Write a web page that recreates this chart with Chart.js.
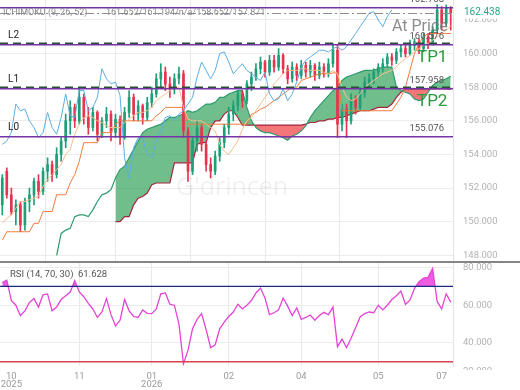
<!DOCTYPE html>
<html>
<head>
<meta charset="utf-8">
<script src="https://cdn.jsdelivr.net/npm/chart.js@4.4.0/dist/chart.umd.min.js"></script>
<style>
  html, body { margin: 0; padding: 0; background: #fff; }
  #wrap { position: relative; width: 520px; height: 390px; overflow: hidden; }
  canvas { position: absolute; left: 0; }
  #main { top: 0; }
  #rsi { top: 262px; }
  #sep { position: absolute; left: 0; top: 261px; width: 520px; height: 2px; background: #858585; }
</style>
</head>
<body>
<div id="wrap">
  <canvas id="main" width="520" height="262"></canvas>
  <canvas id="rsi" width="520" height="128"></canvas>
  <div id="sep"></div>
</div>
<script>
// candles, one per bar index
const opens = [151.0,153.0,151.6,150.6,151.0,149.8,151.2,151.6,152.4,151.8,
  153.0,153.4,152.8,154.0,154.8,156.0,156.8,156.0,157.4,156.2,
  155.6,156.5,155.2,156.0,156.4,155.3,156.1,155.0,156.5,157.4,
  156.4,156.9,156.2,157.1,157.6,158.5,158.9,158.2,157.9,158.5,
  158.8,155.4,153.0,154.8,155.6,154.6,153.4,153.0,153.9,154.7,
  155.6,156.4,156.9,157.6,157.2,158.2,158.6,159.1,159.5,158.9,
  159.6,159.2,159.9,159.1,158.5,159.2,158.7,159.3,158.9,159.3,
  158.7,159.2,158.8,159.4,160.2,155.8,156.7,156.0,157.3,156.8,
  157.7,158.3,158.5,158.9,159.2,159.4,159.8,159.6,160.1,160.3,
  160.0,160.5,160.7,160.3,161.0,160.6,161.4,162.6,161.8,162.7];
const highs = [152.8,153.2,152.0,151.3,151.2,151.4,152.0,152.6,152.8,153.2,
  153.8,153.6,154.4,155.0,156.4,157.2,157.0,158.0,157.6,156.8,
  156.8,156.6,156.2,156.8,156.6,156.4,156.3,156.8,157.8,157.6,
  157.2,157.0,157.4,158.0,158.8,159.4,159.2,158.6,158.8,159.2,
  159.0,155.6,155.0,156.0,155.8,154.8,153.8,154.2,155.0,155.8,
  156.8,157.2,157.8,157.8,158.4,158.9,159.4,159.8,159.6,159.9,
  159.9,160.3,160.0,159.3,159.5,159.4,159.6,159.5,159.6,159.4,
  159.5,159.4,159.7,160.6,160.5,157.0,157.0,157.6,157.5,158.0,
  158.6,158.8,159.1,159.4,159.7,160.0,160.0,160.3,160.5,160.6,
  160.8,160.9,160.9,161.2,161.2,161.6,162.9,162.8,162.9,162.8];
const lows = [150.4,151.4,150.4,149.8,149.4,149.5,150.6,151.0,151.4,151.6,
  152.4,152.4,152.6,153.6,154.4,155.2,155.6,155.8,155.8,155.2,
  155.4,154.8,155.0,155.6,154.8,155.0,154.6,154.9,156.2,156.0,
  156.0,155.8,156.0,156.8,157.4,158.0,157.8,157.4,157.6,158.2,
  155.0,152.4,152.8,154.2,154.2,153.0,152.6,152.8,153.6,154.4,
  155.2,156.0,156.6,156.8,157.0,157.8,158.4,158.8,158.6,158.7,
  158.9,159.0,158.8,158.2,158.3,158.4,158.5,158.6,158.6,158.4,
  158.5,158.6,158.6,159.2,155.0,155.4,155.0,155.8,156.4,156.6,
  157.4,158.0,158.2,158.6,158.9,159.2,159.3,159.4,159.8,159.8,
  159.9,160.2,160.0,160.1,160.3,160.5,161.2,161.4,161.6,161.4];
const closes = [152.6,151.6,150.6,151.0,149.8,151.2,151.6,152.4,151.8,153.0,
  153.4,152.8,154.0,154.8,156.0,156.8,156.0,157.4,156.2,155.6,
  156.5,155.2,156.0,156.4,155.3,156.1,155.0,156.5,157.4,156.4,
  156.9,156.2,157.1,157.6,158.5,158.9,158.2,157.9,158.5,158.8,
  155.4,153.0,154.8,155.6,154.6,153.4,153.0,153.9,154.7,155.6,
  156.4,156.9,157.6,157.2,158.2,158.6,159.1,159.5,158.9,159.6,
  159.2,159.9,159.1,158.5,159.2,158.7,159.3,158.9,159.3,158.7,
  159.2,158.8,159.4,160.2,155.8,156.7,156.0,157.3,156.8,157.7,
  158.3,158.5,158.9,159.2,159.4,159.8,159.6,160.1,160.3,160.0,
  160.5,160.7,160.3,161.0,160.6,161.4,162.6,161.8,162.7,162.438];

// ichimoku lines
const tenkan = [149.9,150.2,150.4,150.8,151.2,151.2,151.3,151.4,151.5,152.1,
  152.5,152.8,153.1,153.4,154.0,154.3,155.2,155.8,156.2,156.3,
  156.2,156.0,155.9,155.7,155.6,155.6,155.6,155.9,156.1,156.3,
  156.5,156.5,156.6,156.8,157.2,157.4,157.6,157.8,158.0,158.0,
  156.8,156.1,156.0,156.0,156.0,155.8,155.6,155.4,154.6,154.2,
  154.0,154.4,154.8,155.5,156.0,156.2,156.6,157.0,157.4,157.8,
  158.2,158.5,158.8,159.0,159.0,159.0,159.1,159.1,159.0,159.0,
  159.0,158.9,158.8,159.0,158.8,158.0,157.4,157.2,157.3,157.6,
  158.0,158.2,158.4,158.6,158.8,158.9,159.0,159.2,159.5,159.7,
  159.9,160.1,160.3,160.5,160.6,160.8,161.0,161.2,161.4,161.652];
const kijun = [148.9,149.4,149.4,149.4,149.4,149.4,149.4,149.9,149.9,150.6,
  150.6,150.6,151.6,151.6,151.6,152.3,152.8,153.6,154.7,154.7,
  154.7,154.7,155.3,155.3,155.3,155.8,156.0,156.0,156.0,156.0,
  156.0,156.0,156.0,156.0,156.3,156.5,156.8,156.8,156.8,156.8,
  156.8,155.8,155.8,155.8,155.8,155.8,155.8,155.8,155.8,155.8,
  155.8,155.8,155.8,155.8,155.8,156.4,156.5,156.7,156.8,157.0,
  157.2,157.4,157.6,157.8,158.0,158.0,158.4,158.5,158.6,158.7,
  158.8,158.8,158.8,158.85,158.85,156.6,156.6,156.6,156.6,156.6,
  156.6,156.6,156.6,156.6,156.6,156.6,156.6,157.0,157.4,158.0,
  159.0,160.0,160.6,161.0,161.194,161.194,161.194,161.194,161.194,161.194];
const chikou = [154.6,154.8,155.3,157.0,156.6,156.7,156.0,155.6,155.0,155.3,
  156.5,155.6,155.2,156.2,157.6,156.3,156.2,157.8,157.8,156.6,
  156.8,157.4,159.1,158.5,158.2,158.3,157.5,153.8,152.6,154.4,
  155.0,155.0,154.0,153.8,154.8,155.4,156.2,156.3,156.0,156.4,
  156.6,157.0,157.4,158.6,159.5,159.0,158.5,159.0,160.0,160.1,
  159.5,158.8,159.1,159.4,159.0,158.8,158.6,158.4,158.9,157.6,
  157.2,157.3,157.9,157.2,157.6,158.3,159.2,159.6,159.8,160.0,
  160.2,160.2,160.1,160.3,160.4,160.2,160.4,160.8,161.2,161.6,
  162.0,162.4,162.5,162.0,161.6,162.2,162.6,null,null,null,
  null,null,null,null,null,null,null,null,null,null];
const spanA = [null,null,null,null,null,null,null,null,null,null,
  null,null,148.0,149.3,149.5,149.6,150.3,150.4,150.4,150.3,
  150.7,151.2,151.6,151.7,151.9,152.6,153.1,153.3,153.8,154.3,
  154.8,155.3,155.5,155.6,155.7,155.8,156.0,156.2,156.2,156.3,
  156.4,156.6,156.5,156.6,156.8,157.0,157.0,157.1,157.4,157.4,
  157.6,157.7,157.8,157.8,156.8,156.0,155.6,155.4,155.3,155.3,
  155.2,155.1,155.0,154.85,155.1,155.2,155.4,155.7,156.2,156.6,
  156.9,157.2,157.5,157.8,158.0,158.4,158.6,158.7,158.8,158.9,
  159.0,159.0,159.0,159.1,159.2,159.2,159.2,158.0,157.8,157.7,
  157.6,157.3,157.2,157.3,157.7,158.1,158.3,158.4,158.5,158.652];
const spanB = [null,null,null,null,null,null,null,null,null,null,
  null,null,null,null,null,null,null,null,null,null,
  null,null,null,null,null,150.0,150.0,150.3,150.3,151.0,
  151.4,151.5,151.7,152.2,152.3,152.3,152.3,152.3,153.5,153.5,
  153.5,153.5,153.5,154.6,154.7,154.7,155.6,156.0,156.0,156.4,
  156.6,156.6,156.2,155.75,155.75,155.75,155.75,155.75,155.75,155.75,
  155.75,155.75,155.75,155.75,155.75,155.75,155.75,155.8,155.9,155.9,
  156.0,156.0,156.1,156.1,156.2,156.2,156.3,156.4,156.5,156.6,
  156.6,156.6,156.7,156.8,156.8,156.8,157.0,157.4,157.7,157.9,
  157.9,157.9,157.9,157.9,157.9,157.9,157.9,157.9,157.9,157.871];

const rsi = [72.0,73.3,62.5,60.0,54.5,57.0,61.5,63.5,59.0,65.5,
  66.0,57.0,59.0,63.0,65.0,67.0,73.0,67.0,64.5,61.0,
  58.0,53.5,56.4,63.5,55.0,49.0,52.0,63.0,57.0,54.0,
  53.5,57.5,55.7,55.5,58.0,66.0,66.5,60.5,60.0,50.0,
  29.0,36.0,47.5,52.5,55.5,47.0,37.5,39.0,47.5,51.0,
  54.0,56.4,60.5,58.0,60.0,62.5,66.5,69.1,63.8,55.0,
  56.0,57.5,63.8,59.5,54.5,58.5,52.5,53.5,54.8,52.0,
  54.5,56.2,55.0,59.0,38.0,42.0,37.5,42.5,48.0,53.8,
  55.5,56.4,56.0,60.0,57.5,60.0,63.0,65.0,67.5,60.5,
  62.7,69.0,72.5,74.4,74.8,79.5,62.0,58.0,66.0,61.628];

// date ticks (bar index) and their labels
const tickAt = [2, 17, 33, 50, 66, 83, 97];
const tickLabels = [['10', '2025'], '11', ['01', '2026'], '02', '04', '05', '07'];

// horizontal levels
const levelValues = [162.758, 160.576, 157.958, 155.076];
const levelNames = ['', 'L2', 'L1', 'L0'];
const tpNames = ['TP1', 'TP2'];
const tpPrices = [159.8, 157.2];
const rsiBands = [70, 30];

const FONT = 'Roboto';
Chart.defaults.font.family = FONT;

const UP = '#1f9f78', DOWN = '#e6344f';
const pts = arr => arr.map((v, i) => ({ x: i, y: v }));
const candleColor = c => closes[c.dataIndex] >= opens[c.dataIndex] ? UP : DOWN;
const gridX = c => (c.index === 0 || c.index === tickAt.length - 1) ? 'rgba(0,0,0,0)' : '#e9e9e9';
const lastClose = closes[closes.length - 1];

function hline(ctx, a, y) {
  ctx.beginPath(); ctx.moveTo(a.left, y); ctx.lineTo(a.right, y); ctx.stroke();
}

const mainDecor = {
  id: 'mainDecor',
  beforeDatasetsDraw(chart) {
    const ctx = chart.ctx;
    ctx.save();
    ctx.fillStyle = 'rgba(0,0,0,0.06)';
    ctx.font = '25px "Open Sans"';
    ctx.textBaseline = 'middle';
    ctx.fillText("G'drincen", 176, 188);
    ctx.restore();
  },
  afterDatasetsDraw(chart) {
    const { ctx, chartArea: a, scales: { y } } = chart;
    ctx.save();
    // last price line
    ctx.strokeStyle = '#8c8c8c'; ctx.lineWidth = 1; ctx.setLineDash([9, 3, 2, 3]);
    hline(ctx, a, Math.round(y.getPixelForValue(lastClose)) + 0.5);

    levelValues.forEach((v, k) => {
      const py = Math.round(y.getPixelForValue(v));
      ctx.setLineDash([]);
      ctx.strokeStyle = '#7434a6'; ctx.lineWidth = 1.5;
      hline(ctx, a, py + 0.75);
      if (levelNames[k] === 'L1' || levelNames[k] === 'L2') {
        ctx.setLineDash([8, 5]); ctx.strokeStyle = '#264f34'; ctx.lineWidth = 1.5;
        hline(ctx, a, py - 0.75);
      }
      ctx.fillStyle = '#555'; ctx.font = '9.5px ' + FONT;
      ctx.textAlign = 'right'; ctx.textBaseline = 'middle';
      ctx.fillText(v.toFixed(3), 444, py - 7);
      if (levelNames[k]) {
        ctx.fillStyle = '#222'; ctx.font = '10px ' + FONT; ctx.textAlign = 'left';
        ctx.fillText(levelNames[k], 8, py - 9);
      }
    });

    // header
    ctx.fillStyle = '#8a8a8a'; ctx.font = '9px ' + FONT; ctx.textAlign = 'left'; ctx.textBaseline = 'middle';
    ctx.fillText('ICHIMOKU (9, 26, 52)', 3, 13);
    const vals = [tenkan.at(-1).toFixed(3), kijun.at(-1).toFixed(3), 'n/a', spanA.at(-1).toFixed(3), spanB.at(-1).toFixed(3)];
    ctx.fillText(vals.join('/'), 106, 13);

    // annotations
    ctx.fillStyle = 'rgba(120,120,120,0.85)'; ctx.font = '16px ' + FONT;
    ctx.fillText('At Price', 392, y.getPixelForValue(161.6));
    ctx.fillStyle = '#2a9a3c'; ctx.font = '17px ' + FONT;
    tpNames.forEach((t, k) => ctx.fillText(t, 417, y.getPixelForValue(tpPrices[k]) + 1));
    ctx.restore();
  },
  afterDraw(chart) {
    const { ctx, scales: { y } } = chart;
    const py = y.getPixelForValue(lastClose);
    ctx.save();
    ctx.fillStyle = '#fff';
    ctx.fillRect(455, py - 6, 65, 12);
    ctx.fillStyle = '#27a983'; ctx.font = '10px ' + FONT; ctx.textBaseline = 'middle';
    ctx.fillText(lastClose.toFixed(3), 464, py);
    ctx.restore();
  }
};

new Chart(document.getElementById('main'), {
  type: 'line',
  data: {
    datasets: [
      { data: pts(spanB), borderColor: '#a3263c', borderWidth: 1.2, pointRadius: 0, order: 8 },
      { data: pts(spanA.map((v, i) => spanB[i] == null ? null : v)), borderWidth: 0, pointRadius: 0, order: 9,
        fill: { target: '-1', above: 'rgba(52,162,92,0.7)', below: 'rgba(242,84,88,0.8)' } },
      { data: pts(spanA), borderColor: '#2c9a6c', borderWidth: 1.2, pointRadius: 0, order: 7 },
      { data: pts(kijun), borderColor: '#f07a3c', borderWidth: 1, pointRadius: 0, order: 4 },
      { data: pts(tenkan), borderColor: '#f6bf8c', borderWidth: 1, pointRadius: 0, order: 3 },
      { data: pts(chikou), borderColor: '#5aaee3', borderWidth: 1, pointRadius: 0, order: 2 },
      { type: 'bar', data: lows.map((v, i) => ({ x: i, y: [v, highs[i]] })), backgroundColor: candleColor,
        barThickness: 1, grouped: false, order: 6 },
      { type: 'bar', data: opens.map((v, i) => ({ x: i, y: [v, closes[i]] })), backgroundColor: candleColor,
        barThickness: 2, grouped: false, order: 5 }
    ]
  },
  options: {
    responsive: false, animation: false, devicePixelRatio: 1, events: [],
    layout: { padding: 0 },
    plugins: { legend: { display: false }, tooltip: { enabled: false } },
    scales: {
      x: {
        type: 'linear', min: -0.5, max: 99.5, offset: false,
        afterBuildTicks: s => { s.ticks = tickAt.map(v => ({ value: v })); },
        afterFit: s => { s.height = 0; s.paddingLeft = 0; s.paddingRight = 0; },
        ticks: { display: false },
        grid: { color: gridX, drawTicks: false },
        border: { display: false }
      },
      y: {
        position: 'right', min: 147.6, max: 163.19,
        afterFit: s => { s.width = 67; s.paddingTop = 0; s.paddingBottom = 0; },
        ticks: { stepSize: 2, includeBounds: false, padding: 10, color: '#b3b3b3', font: { size: 9.5 },
          callback: v => v.toFixed(3) },
        grid: { color: '#ececec', drawTicks: false },
        border: { display: true, color: '#e2e2e2' }
      }
    }
  },
  plugins: [mainDecor]
});

const rsiDecor = {
  id: 'rsiDecor',
  afterDatasetsDraw(chart) {
    const { ctx, chartArea: a, scales: { y } } = chart;
    ctx.save();
    ctx.lineWidth = 1.3;
    ctx.strokeStyle = '#1e2a82'; hline(ctx, a, y.getPixelForValue(rsiBands[0]));
    ctx.strokeStyle = '#d8434f'; hline(ctx, a, y.getPixelForValue(rsiBands[1]));
    ctx.fillStyle = '#555'; ctx.font = '9.5px ' + FONT; ctx.textBaseline = 'middle';
    ctx.fillText('RSI (14, ' + rsiBands[0] + ', ' + rsiBands[1] + ')', 10, 13);
    ctx.fillText(rsi.at(-1).toFixed(3), 78, 13);
    // bottom tick label, cut by the pane edge
    ctx.beginPath(); ctx.rect(455, a.bottom, 65, 4); ctx.clip();
    ctx.fillStyle = '#b3b3b3';
    ctx.fillText((20).toFixed(3), 463, a.bottom + 6);
    ctx.restore();
  }
};

new Chart(document.getElementById('rsi'), {
  type: 'line',
  data: {
    datasets: [{
      data: pts(rsi), borderColor: '#e444d6', borderWidth: 1.3, pointRadius: 0,
      fill: { value: rsiBands[0], above: 'rgba(236,64,220,0.85)', below: 'rgba(0,0,0,0)' }
    }]
  },
  options: {
    responsive: false, animation: false, devicePixelRatio: 1, events: [],
    layout: { padding: 0 },
    plugins: { legend: { display: false }, tooltip: { enabled: false } },
    scales: {
      x: {
        type: 'linear', min: -0.5, max: 99.5, offset: false,
        afterBuildTicks: s => { s.ticks = tickAt.map(v => ({ value: v })); },
        afterFit: s => { s.height = 24; s.paddingLeft = 0; s.paddingRight = 0; },
        ticks: { padding: 6, color: '#9a9a9a', maxRotation: 0, autoSkip: false,
          font: { size: 9.5, lineHeight: 0.9 }, callback: (v, i) => tickLabels[i] },
        grid: { color: gridX, drawTicks: false },
        border: { display: false }
      },
      y: {
        position: 'right', min: 27.75, max: 82.92,
        afterFit: s => { s.width = 67; s.paddingTop = 0; s.paddingBottom = 0; },
        ticks: { stepSize: 20, includeBounds: false, padding: 10, color: '#b3b3b3', font: { size: 9.5 },
          callback: v => v.toFixed(3) },
        grid: { color: '#ececec', drawTicks: false },
        border: { display: true, color: '#e2e2e2' }
      }
    }
  },
  plugins: [rsiDecor]
});
</script>
</body>
</html>
